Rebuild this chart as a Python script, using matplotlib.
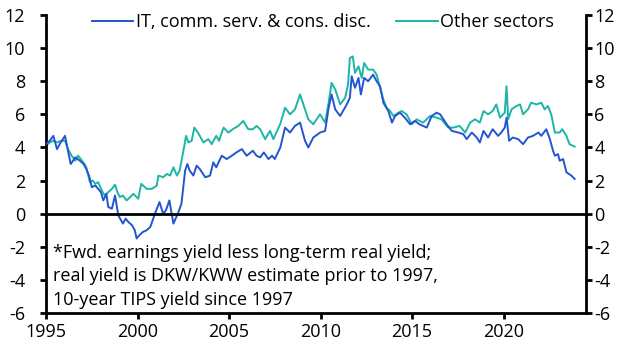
import matplotlib
matplotlib.use("Agg")
import matplotlib.pyplot as plt

plt.rcParams['font.family'] = ['Open Sans', 'DejaVu Sans']
plt.rcParams['axes.unicode_minus'] = False

# IT, comm. serv. & cons. disc.
it_years = [1995.0, 1995.2, 1995.4, 1995.6, 1995.8, 1996.04, 1996.2, 1996.35, 1996.6, 1996.85,
            1997.05, 1997.2, 1997.35, 1997.5, 1997.7, 1997.85, 1998.0, 1998.13, 1998.3, 1998.4,
            1998.6, 1998.77, 1998.95, 1999.1, 1999.2, 1999.35, 1999.5, 1999.7, 1999.85, 1999.95,
            2000.1, 2000.3, 2000.5, 2000.7, 2000.95, 2001.2, 2001.4, 2001.55, 2001.74, 2001.96,
            2002.2, 2002.4, 2002.5, 2002.6, 2002.72, 2002.85, 2003.05, 2003.23, 2003.4, 2003.7,
            2003.96, 2004.14, 2004.3, 2004.6, 2004.87, 2005.15, 2005.4, 2005.7, 2005.96, 2006.3,
            2006.5, 2006.7, 2006.9, 2007.15, 2007.35, 2007.5, 2007.8, 2008.06, 2008.33, 2008.6,
            2008.88, 2009.15, 2009.33, 2009.6, 2009.97, 2010.25, 2010.44, 2010.6, 2010.8, 2011.07,
            2011.43, 2011.6, 2011.7, 2011.88, 2012.07, 2012.2, 2012.38, 2012.6, 2012.87, 2013.06,
            2013.25, 2013.43, 2013.7, 2013.9, 2014.07, 2014.34, 2014.6, 2014.89, 2015.16, 2015.4,
            2015.8, 2016.07, 2016.34, 2016.53, 2016.89, 2017.17, 2017.53, 2017.8, 2017.98, 2018.26,
            2018.53, 2018.7, 2018.9, 2019.15, 2019.4, 2019.7, 2019.87, 2020.06, 2020.16, 2020.3,
            2020.5, 2020.8, 2021.06, 2021.33, 2021.6, 2021.9, 2022.06, 2022.33, 2022.5, 2022.7,
            2022.8, 2022.97, 2023.06, 2023.25, 2023.43, 2023.7, 2023.88]
it_vals = [4.2, 4.4, 4.7, 3.9, 4.3, 4.7, 3.8, 3.0, 3.4, 3.2,
           3.0, 2.7, 2.3, 1.6, 1.7, 1.5, 1.3, 0.8, 1.2, 0.4,
           0.3, 1.1, -0.1, -0.4, -0.6, -0.3, -0.5, -0.7, -1.0, -1.5,
           -1.3, -1.1, -1.0, -0.8, 0.0, 0.7, 0.0, 0.2, 0.8, -0.6,
           0.0, 0.6, 1.6, 2.6, 3.0, 2.6, 2.3, 2.9, 2.7, 2.2,
           2.3, 3.1, 2.8, 3.5, 3.3, 3.5, 3.7, 3.9, 3.5, 3.8,
           3.5, 3.4, 3.7, 3.3, 3.5, 3.3, 4.0, 5.2, 4.9, 5.3,
           5.5, 4.4, 4.0, 4.6, 4.9, 5.0, 6.4, 7.2, 6.3, 5.9,
           6.6, 7.0, 8.3, 7.6, 8.2, 7.2, 8.2, 8.0, 8.4, 8.0,
           7.7, 6.7, 6.2, 5.5, 5.9, 6.1, 5.8, 5.4, 5.6, 5.4,
           5.2, 5.9, 6.1, 6.0, 5.4, 5.0, 4.9, 4.8, 4.5, 4.9,
           4.6, 4.3, 5.0, 4.6, 5.1, 4.7, 4.9, 5.2, 5.8, 4.4,
           4.6, 4.5, 4.2, 4.6, 4.7, 4.9, 4.7, 5.1, 4.6, 3.8,
           3.5, 3.6, 3.2, 3.3, 2.5, 2.3, 2.1]

# Other sectors
oth_years = [1995.0, 1995.2, 1995.4, 1995.6, 1995.8, 1996.04, 1996.2, 1996.4, 1996.6, 1996.75,
             1996.9, 1997.1, 1997.2, 1997.4, 1997.55, 1997.7, 1997.85, 1998.05, 1998.2, 1998.4,
             1998.6, 1998.77, 1998.9, 1999.04, 1999.2, 1999.4, 1999.6, 1999.77, 2000.04, 2000.2,
             2000.5, 2000.78, 2001.05, 2001.14, 2001.4, 2001.6, 2001.78, 2001.96, 2002.15, 2002.3,
             2002.54, 2002.65, 2002.78, 2002.96, 2003.1, 2003.3, 2003.6, 2003.87, 2004.05, 2004.3,
             2004.45, 2004.7, 2004.96, 2005.2, 2005.5, 2005.78, 2006.05, 2006.3, 2006.5, 2006.7,
             2006.97, 2007.24, 2007.42, 2007.79, 2008.06, 2008.33, 2008.6, 2008.88, 2009.06, 2009.33,
             2009.6, 2009.97, 2010.25, 2010.44, 2010.6, 2010.8, 2011.07, 2011.34, 2011.5, 2011.6,
             2011.76, 2011.88, 2012.07, 2012.25, 2012.38, 2012.6, 2012.87, 2013.06, 2013.2, 2013.43,
             2013.6, 2013.8, 2013.98, 2014.25, 2014.43, 2014.7, 2014.98, 2015.25, 2015.6, 2015.98,
             2016.33, 2016.6, 2016.97, 2017.25, 2017.6, 2017.9, 2018.17, 2018.44, 2018.7, 2018.9,
             2019.15, 2019.4, 2019.6, 2019.8, 2020.06, 2020.16, 2020.25, 2020.43, 2020.7, 2020.9,
             2021.06, 2021.33, 2021.5, 2021.8, 2022.06, 2022.24, 2022.42, 2022.6, 2022.8, 2023.06,
             2023.2, 2023.43, 2023.6, 2023.88]
oth_vals = [4.1, 4.3, 4.4, 4.3, 4.4, 4.4, 3.9, 3.5, 3.2, 3.5,
            3.3, 3.0, 2.8, 1.9, 2.0, 1.8, 1.9, 1.4, 1.1, 1.3,
            1.5, 1.75, 1.3, 1.0, 1.1, 0.8, 1.0, 1.2, 0.9, 1.8,
            1.5, 1.5, 1.7, 2.3, 2.2, 2.4, 2.3, 2.8, 2.3, 2.6,
            4.0, 4.7, 4.3, 4.4, 5.2, 4.9, 4.3, 4.5, 4.2, 4.7,
            4.4, 5.2, 4.9, 5.1, 5.3, 5.6, 5.1, 5.1, 5.3, 5.1,
            4.5, 5.0, 4.5, 5.4, 6.4, 6.0, 6.3, 7.2, 6.6, 5.7,
            5.4, 6.0, 5.5, 6.7, 7.9, 7.5, 6.6, 7.0, 7.8, 9.4,
            9.5, 8.5, 8.9, 8.2, 9.1, 8.7, 8.7, 8.4, 7.8, 6.9,
            6.4, 6.2, 5.9, 6.1, 6.2, 6.0, 5.4, 5.7, 5.5, 5.9,
            5.8, 5.7, 5.2, 5.2, 5.3, 4.9, 5.5, 5.7, 5.5, 6.2,
            6.0, 6.2, 6.6, 5.8, 6.1, 7.7, 5.7, 6.3, 6.5, 6.6,
            6.0, 6.3, 6.7, 6.6, 6.7, 6.3, 6.5, 6.0, 4.9, 4.9,
            5.1, 4.7, 4.2, 4.05]

y_ticks = [-6, -4, -2, 0, 2, 4, 6, 8, 10, 12]
x_ticks = [1995, 2000, 2005, 2010, 2015, 2020]

note = ("*Fwd. earnings yield less long-term real yield;\n"
        "real yield is DKW/KWW estimate prior to 1997,\n"
        "10-year TIPS yield since 1997")

FS = 13

fig = plt.figure(figsize=(6.31, 3.57), dpi=100)
ax = fig.add_axes([0.0729, 0.1232, 0.8558, 0.8348])

ax.plot(it_years, it_vals, color='#2255d0', lw=1.4, label='IT, comm. serv. & cons. disc.', zorder=3)
ax.plot(oth_years, oth_vals, color='#1db5a5', lw=1.4, label='Other sectors', zorder=2)
ax.axhline(0, color='black', lw=2, zorder=4)

ax.set_xlim(1995, 2024.5)
ax.set_ylim(-6, 12)
ax.set_yticks(y_ticks)
ax.set_xticks(x_ticks)

ax.spines['top'].set_visible(False)
ax.spines['right'].set_visible(False)
for s in ['left', 'bottom']:
    ax.spines[s].set_linewidth(2)
ax.tick_params(axis='y', direction='out', length=4, width=2, labelsize=FS, pad=11)
ax.tick_params(axis='x', direction='out', length=4, width=2, labelsize=FS, pad=3)

# right-hand axis mirrors the left one
ax2 = ax.twinx()
ax2.set_ylim(-6, 12)
ax2.set_yticks(y_ticks)
ax2.spines['top'].set_visible(False)
ax2.spines['left'].set_visible(False)
ax2.spines['bottom'].set_visible(False)
ax2.spines['right'].set_linewidth(2)
ax2.tick_params(axis='y', direction='out', length=4, width=2, labelsize=FS, pad=2)

ax.legend(loc='upper center', bbox_to_anchor=(0.513, 1.06), ncol=2, frameon=False,
          fontsize=FS, handlelength=2.3, handletextpad=0.15, columnspacing=1.4)

ax.text(0.013, 0.232, note, transform=ax.transAxes, fontsize=FS, va='top', ha='left',
        linespacing=1.38)

fig.savefig('out.png', dpi=100)
